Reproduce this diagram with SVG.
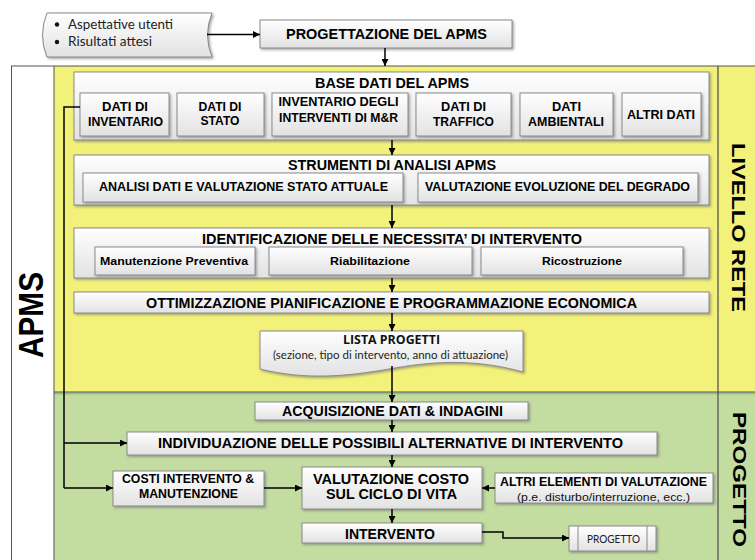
<svg xmlns="http://www.w3.org/2000/svg" width="755" height="560" viewBox="0 0 755 560">
  <defs>
    <linearGradient id="boxFill" x1="0" y1="0" x2="0" y2="1">
      <stop offset="0" stop-color="#ffffff"/>
      <stop offset="1" stop-color="#e2e2e2"/>
    </linearGradient>
    <filter id="shadow" x="-5%" y="-20%" width="110%" height="150%">
      <feDropShadow dx="1.5" dy="1.5" stdDeviation="0.8" flood-color="#6e6e6e" flood-opacity="0.6"/>
    </filter>
    <marker id="arrow" viewBox="0 0 8 8" refX="8" refY="4" markerWidth="7" markerHeight="7" markerUnits="userSpaceOnUse" orient="auto">
      <path d="M0,0 L8,4 L0,8 Z" fill="#000"/>
    </marker>
    <style>
      .box { fill: url(#boxFill); stroke: #8a8a8a; stroke-width: 1; filter: url(#shadow); }
      .t { font-family: "Liberation Sans", Arial, sans-serif; font-weight: bold; fill: #000; text-anchor: middle; }
      .r { font-family: "Liberation Sans", Arial, sans-serif; fill: #111; text-anchor: middle; }
      .c { font-family: Lato, "Open Sans", sans-serif; fill: #222; }
      .cb { font-family: "Open Sans", Lato, sans-serif; font-weight: 700; fill: #111; }
      .conn { fill: none; stroke: #000; stroke-width: 1.5; }
      .frame { fill: none; stroke: #555; stroke-width: 1; }
    </style>
  </defs>

  <!-- background bands -->
  <g id="bands">
    <rect x="0" y="0" width="755" height="560" fill="#ffffff"/>
    <rect x="54" y="66" width="701" height="326" fill="#f2f179"/>
    <rect x="54" y="392" width="701" height="168" fill="#c3dca0"/>
    <line x1="54" y1="393.5" x2="755" y2="393.5" stroke="#9fbf84" stroke-width="2"/>
    <line class="frame" x1="11" y1="66" x2="755" y2="66"/>
    <line class="frame" x1="11.5" y1="66" x2="11.5" y2="560"/>
    <line class="frame" x1="54" y1="66" x2="54" y2="560"/>
    <line class="frame" x1="54" y1="392" x2="755" y2="392"/>
    <line x1="718" y1="66" x2="718" y2="560" stroke="#4a4a4a" stroke-width="1.2"/>
  </g>

  <!-- side labels -->
  <g id="label-apms">
    <text class="t" font-size="35" textLength="86" lengthAdjust="spacingAndGlyphs" transform="translate(43,315) rotate(-90)">APMS</text>
  </g>
  <g id="label-livello-rete">
    <text class="t" font-size="18" textLength="169" lengthAdjust="spacingAndGlyphs" transform="translate(732,227.5) rotate(90)">LIVELLO RETE</text>
  </g>
  <g id="label-progetto">
    <text class="t" font-size="18" textLength="135" lengthAdjust="spacingAndGlyphs" transform="translate(733,479.5) rotate(90)">PROGETTO</text>
  </g>

  <!-- inputs (stored data shape) -->
  <g id="inputs">
    <path class="box" d="M47,13 L212,13 Q203,35 212,57 L47,57 Q38,35 47,13 Z"/>
    <circle cx="57" cy="24.5" r="2.2" fill="#111"/>
    <circle cx="57" cy="42" r="2.2" fill="#111"/>
    <text class="c" x="68" y="29" font-size="13" textLength="105" lengthAdjust="spacingAndGlyphs">Aspettative utenti</text>
    <text class="c" x="68" y="46" font-size="13" textLength="84" lengthAdjust="spacingAndGlyphs">Risultati attesi</text>
  </g>

  <g id="progettazione">
    <rect class="box" x="260" y="20" width="252" height="28"/>
    <text class="t" x="386.5" y="39" font-size="15" textLength="201" lengthAdjust="spacingAndGlyphs">PROGETTAZIONE DEL APMS</text>
  </g>

  <!-- network level -->
  <g id="base-dati">
    <rect class="box" x="74" y="72" width="635" height="68"/>
    <text class="t" x="392" y="88" font-size="14" textLength="154" lengthAdjust="spacingAndGlyphs">BASE DATI DEL APMS</text>
  </g>
  <g id="dati-inventario">
    <rect class="box" x="80" y="93" width="89" height="43"/>
    <text class="t" x="125" y="111" font-size="12" textLength="46" lengthAdjust="spacingAndGlyphs">DATI DI</text>
    <text class="t" x="125.5" y="126" font-size="12" textLength="75" lengthAdjust="spacingAndGlyphs">INVENTARIO</text>
  </g>
  <g id="dati-stato">
    <rect class="box" x="177" y="93" width="87" height="43"/>
    <text class="t" x="220" y="110.5" font-size="12" textLength="43" lengthAdjust="spacingAndGlyphs">DATI DI</text>
    <text class="t" x="220" y="124.5" font-size="12" textLength="39" lengthAdjust="spacingAndGlyphs">STATO</text>
  </g>
  <g id="inventario-interventi">
    <rect class="box" x="272" y="93" width="136" height="43"/>
    <text class="t" x="338.5" y="106" font-size="12" textLength="120" lengthAdjust="spacingAndGlyphs">INVENTARIO DEGLI</text>
    <text class="t" x="338.5" y="122" font-size="12" textLength="119" lengthAdjust="spacingAndGlyphs">INTERVENTI DI M&amp;R</text>
  </g>
  <g id="dati-traffico">
    <rect class="box" x="416" y="93" width="95" height="43"/>
    <text class="t" x="463.5" y="110.5" font-size="12" textLength="45" lengthAdjust="spacingAndGlyphs">DATI DI</text>
    <text class="t" x="463.5" y="125.5" font-size="12" textLength="61" lengthAdjust="spacingAndGlyphs">TRAFFICO</text>
  </g>
  <g id="dati-ambientali">
    <rect class="box" x="520" y="93" width="93" height="43"/>
    <text class="t" x="566.5" y="110.5" font-size="12" textLength="29" lengthAdjust="spacingAndGlyphs">DATI</text>
    <text class="t" x="566" y="126" font-size="12" textLength="76" lengthAdjust="spacingAndGlyphs">AMBIENTALI</text>
  </g>
  <g id="altri-dati">
    <rect class="box" x="622" y="93" width="79" height="43"/>
    <text class="t" x="661" y="118.5" font-size="12" textLength="68" lengthAdjust="spacingAndGlyphs">ALTRI DATI</text>
  </g>

  <g id="strumenti">
    <rect class="box" x="74" y="155" width="635" height="50"/>
    <text class="t" x="392" y="170" font-size="14" textLength="208" lengthAdjust="spacingAndGlyphs">STRUMENTI DI ANALISI APMS</text>
  </g>
  <g id="analisi-dati">
    <rect class="box" x="83" y="173" width="320" height="29"/>
    <text class="t" x="243.5" y="191" font-size="12" textLength="289" lengthAdjust="spacingAndGlyphs">ANALISI DATI E VALUTAZIONE STATO ATTUALE</text>
  </g>
  <g id="evoluzione-degrado">
    <rect class="box" x="418" y="173" width="280" height="29"/>
    <text class="t" x="557.5" y="191" font-size="12" textLength="265" lengthAdjust="spacingAndGlyphs">VALUTAZIONE EVOLUZIONE DEL DEGRADO</text>
  </g>

  <g id="identificazione">
    <rect class="box" x="74" y="228" width="635" height="50"/>
    <text class="t" x="392" y="243.5" font-size="14" textLength="380" lengthAdjust="spacingAndGlyphs">IDENTIFICAZIONE DELLE NECESSITA’ DI INTERVENTO</text>
  </g>
  <g id="manutenzione-preventiva">
    <rect class="box" x="95" y="247" width="160" height="28"/>
    <text class="t" x="174" y="265" font-size="11.5" textLength="148" lengthAdjust="spacingAndGlyphs">Manutenzione Preventiva</text>
  </g>
  <g id="riabilitazione">
    <rect class="box" x="269" y="247" width="203" height="28"/>
    <text class="t" x="370" y="265" font-size="11.5" textLength="80" lengthAdjust="spacingAndGlyphs">Riabilitazione</text>
  </g>
  <g id="ricostruzione">
    <rect class="box" x="481" y="247" width="202" height="28"/>
    <text class="t" x="582" y="265" font-size="11.5" textLength="80" lengthAdjust="spacingAndGlyphs">Ricostruzione</text>
  </g>

  <g id="ottimizzazione">
    <rect class="box" x="74" y="292" width="635" height="21"/>
    <text class="t" x="391.5" y="307.5" font-size="14" textLength="491" lengthAdjust="spacingAndGlyphs">OTTIMIZZAZIONE PIANIFICAZIONE E PROGRAMMAZIONE ECONOMICA</text>
  </g>

  <g id="lista-progetti">
    <path class="box" d="M260,331 L523,331 L523,372 C480,360 440,360 395,368 C345,377 305,380 260,369 Z"/>
    <text class="cb" x="391.5" y="344" font-size="11.5" text-anchor="middle" textLength="97" lengthAdjust="spacingAndGlyphs">LISTA  PROGETTI</text>
    <text class="c" x="390.5" y="359" font-size="11.5" text-anchor="middle" textLength="235" lengthAdjust="spacingAndGlyphs">(sezione, tipo di intervento, anno di attuazione)</text>
  </g>

  <!-- project level -->
  <g id="acquisizione">
    <rect class="box" x="255" y="402" width="273" height="18"/>
    <text class="t" x="392.5" y="415.5" font-size="14" textLength="221" lengthAdjust="spacingAndGlyphs">ACQUISIZIONE DATI &amp; INDAGINI</text>
  </g>
  <g id="individuazione">
    <rect class="box" x="127" y="432" width="530" height="23"/>
    <text class="t" x="390.5" y="448" font-size="14" textLength="465" lengthAdjust="spacingAndGlyphs">INDIVIDUAZIONE  DELLE POSSIBILI ALTERNATIVE DI INTERVENTO</text>
  </g>
  <g id="costi">
    <rect class="box" x="113" y="471" width="151" height="35"/>
    <text class="t" x="188" y="483" font-size="12" textLength="132" lengthAdjust="spacingAndGlyphs">COSTI INTERVENTO &amp;</text>
    <text class="t" x="188.5" y="498" font-size="12" textLength="99" lengthAdjust="spacingAndGlyphs">MANUTENZIONE</text>
  </g>
  <g id="valutazione-costo">
    <rect class="box" x="302" y="467" width="180" height="42"/>
    <text class="t" x="391" y="483.5" font-size="15" textLength="156" lengthAdjust="spacingAndGlyphs">VALUTAZIONE COSTO</text>
    <text class="t" x="391.5" y="499" font-size="15" textLength="131" lengthAdjust="spacingAndGlyphs">SUL CICLO DI VITA</text>
  </g>
  <g id="altri-elementi">
    <rect class="box" x="495" y="473" width="218" height="30"/>
    <text class="t" x="603.5" y="486" font-size="12" textLength="207" lengthAdjust="spacingAndGlyphs">ALTRI ELEMENTI DI VALUTAZIONE</text>
    <text class="r" x="603.5" y="500.5" font-size="11" textLength="173" lengthAdjust="spacingAndGlyphs">(p.e. disturbo/interruzione, ecc.)</text>
  </g>
  <g id="intervento">
    <rect class="box" x="302" y="523" width="180" height="20"/>
    <text class="t" x="390" y="539" font-size="14" textLength="90" lengthAdjust="spacingAndGlyphs">INTERVENTO</text>
  </g>
  <g id="progetto">
    <rect class="box" x="569" y="526" width="87" height="25"/>
    <line x1="578" y1="526" x2="578" y2="551" stroke="#8a8a8a" stroke-width="1"/>
    <line x1="647" y1="526" x2="647" y2="551" stroke="#8a8a8a" stroke-width="1"/>
    <text class="c" x="613.5" y="542.5" font-size="11" text-anchor="middle" textLength="53" lengthAdjust="spacingAndGlyphs">PROGETTO</text>
  </g>

  <!-- connectors -->
  <g id="connectors">
    <path class="conn" d="M207,34.5 H260" stroke-width="1.2" marker-end="url(#arrow)"/>
    <path class="conn" d="M385,48 V66" marker-end="url(#arrow)"/>
    <path class="conn" d="M392,140 V155" marker-end="url(#arrow)"/>
    <path class="conn" d="M392,205 V228" marker-end="url(#arrow)"/>
    <path class="conn" d="M392,278 V292" marker-end="url(#arrow)"/>
    <path class="conn" d="M392,313 V331" marker-end="url(#arrow)"/>
    <path class="conn" d="M392,366 V402" marker-end="url(#arrow)"/>
    <path class="conn" d="M392,420 V432" marker-end="url(#arrow)"/>
    <path class="conn" d="M392,455 V467" marker-end="url(#arrow)"/>
    <path class="conn" d="M392,509 V523" marker-end="url(#arrow)"/>
    <path class="conn" d="M80,107 H64 V488"/>
    <path class="conn" d="M64,443 H127" marker-end="url(#arrow)"/>
    <path class="conn" d="M64,488 H113" marker-end="url(#arrow)"/>
    <path class="conn" d="M264,488 H302" marker-end="url(#arrow)"/>
    <path class="conn" d="M495,488 H482" marker-end="url(#arrow)"/>
    <path class="conn" d="M482,532 H503 V538 H569" stroke-width="1.2" marker-end="url(#arrow)"/>
  </g>
</svg>
